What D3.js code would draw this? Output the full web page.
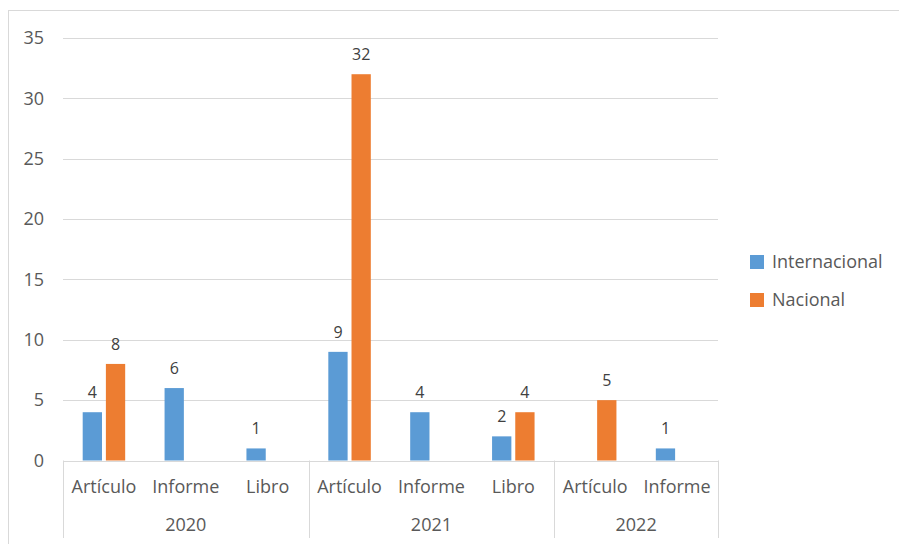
<!DOCTYPE html>
<html><head><meta charset="utf-8">
<script src="https://cdn.jsdelivr.net/npm/d3@7"></script>
<style>body{margin:0;background:#fff;}svg{display:block;}text{font-family:"Open Sans",sans-serif;}</style>
</head><body><svg id="c" width="899" height="544"></svg>
<script>
const years = ["2020","2020","2020","2021","2021","2021","2022","2022"];
const types = ["Artículo","Informe","Libro","Artículo","Informe","Libro","Artículo","Informe"];
const yearGroups = ["2020","2021","2022"];
const seriesNames = ["Internacional","Nacional"];
const internacional = [4,6,1,9,4,2,null,1];
const nacional = [8,null,null,32,null,4,5,null];
const yTicks = [0,5,10,15,20,25,30,35];
const colors = ["#5B9BD5","#ED7D31"];

const svg = d3.select("#c");
svg.append("rect").attr("x",8.5).attr("y",10.5).attr("width",899).attr("height",544).attr("fill","none").attr("stroke","#d9d9d9");

const L=63, R=718, T=38, B=460.5;
const idx = d3.range(types.length);
const x = d3.scaleBand().domain(idx).range([L,R]).padding(0);
const xs = d3.scaleBand().domain(seriesNames).range([0,x.bandwidth()]).paddingInner(0.168).paddingOuter(0.849);
const y = d3.scaleLinear().domain([0,35]).range([B,T]);

// grid
svg.append("g").selectAll("line").data(yTicks).join("line")
  .attr("x1",L).attr("x2",R).attr("y1",d=>Math.round(y(d))+0.5).attr("y2",d=>Math.round(y(d))+0.5)
  .attr("stroke","#d9d9d9").attr("stroke-width",1);
// y labels
const yAxis = d3.axisLeft(y).tickValues(yTicks).tickSize(0).tickPadding(19);
const ga = svg.append("g").attr("transform",`translate(${L},0)`).call(yAxis);
ga.select(".domain").remove();
ga.selectAll("text").attr("font-size",18).attr("fill","#595959").style("font-family",'"Open Sans",sans-serif');

// bars
const series = [internacional, nacional];
series.forEach((vals,si)=>{
  const g = svg.append("g");
  const data = idx.filter(i=>vals[i]!=null).map(i=>({i,v:vals[i]}));
  g.selectAll("rect").data(data).join("rect")
    .attr("x",d=>x(d.i)+xs(seriesNames[si]))
    .attr("width",xs.bandwidth())
    .attr("y",d=>y(d.v)).attr("height",d=>y(0)-y(d.v))
    .attr("fill",colors[si]);
  g.selectAll("text").data(data).join("text")
    .attr("x",d=>x(d.i)+xs(seriesNames[si])+xs.bandwidth()/2)
    .attr("y",d=>y(d.v)-14)
    .attr("text-anchor","middle").attr("font-size",16).attr("fill","#404040")
    .text(d=>d.v);
});

// category labels
svg.append("g").selectAll("text").data(idx).join("text")
  .attr("x",i=>x(i)+x.bandwidth()/2).attr("y",493)
  .attr("text-anchor","middle").attr("font-size",18).attr("fill","#595959")
  .text(i=>types[i]);
// group separators
const groupBounds = yearGroups.map(yr=>{
  const ii = idx.filter(i=>years[i]===yr);
  return {yr, x0:x(ii[0]), x1:x(ii[ii.length-1])+x.bandwidth()};
});
const sepX = [groupBounds[0].x0, ...groupBounds.map(g=>g.x1)];
svg.append("g").selectAll("line").data(sepX).join("line")
  .attr("x1",d=>Math.round(d)+0.5).attr("x2",d=>Math.round(d)+0.5).attr("y1",B).attr("y2",538)
  .attr("stroke","#d9d9d9");
svg.append("g").selectAll("text").data(groupBounds).join("text")
  .attr("x",g=>(g.x0+g.x1)/2).attr("y",531)
  .attr("text-anchor","middle").attr("font-size",18).attr("fill","#595959")
  .text(g=>g.yr);

// legend
const lg = svg.append("g").attr("transform","translate(750,255)");
seriesNames.forEach((n,i)=>{
  lg.append("rect").attr("x",0).attr("y",i*38).attr("width",14).attr("height",14).attr("fill",colors[i]);
  lg.append("text").attr("x",22).attr("y",i*38+13).attr("font-size",18).attr("fill","#595959").text(n);
});
</script></body></html>
